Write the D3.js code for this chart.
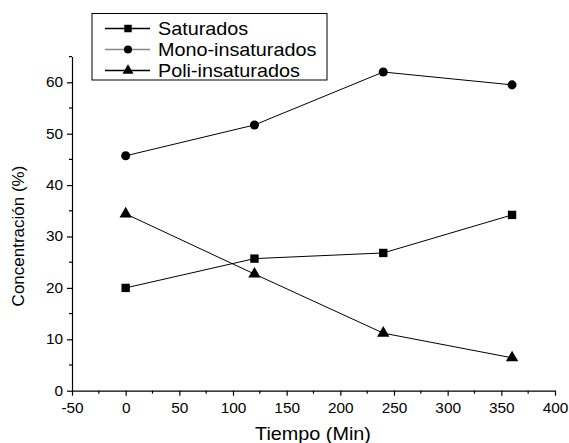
<!DOCTYPE html>
<html>
<head>
<meta charset="utf-8">
<script src="https://cdn.jsdelivr.net/npm/d3@7"></script>
<style>
html,body{margin:0;padding:0;background:#fff;}
svg{display:block;font-family:"Liberation Sans",Arial,sans-serif;}
</style>
</head>
<body>
<svg id="chart" width="569" height="443"></svg>
<script>
const tiempos = [0, 120, 240, 360];
const saturados = [20.0, 25.7, 26.8, 34.2];
const monoInsaturados = [45.7, 51.7, 62.0, 59.5];
const poliInsaturados = [34.4, 22.7, 11.2, 6.4];
const seriesNames = ["Saturados", "Mono-insaturados", "Poli-insaturados"];
const xTicks = [-50, 0, 50, 100, 150, 200, 250, 300, 350, 400];
const yTicks = [0, 10, 20, 30, 40, 50, 60];

const svg = d3.select("#chart");
const x = d3.scaleLinear().domain([-50, 400]).range([72, 555]);
const y = d3.scaleLinear().domain([0, 65]).range([390.7, 56.6]);
const SX = 1.1;

const series = [
  {name: seriesNames[0], values: saturados, shape: d3.symbolSquare, size: 70, legendColor: "#000"},
  {name: seriesNames[1], values: monoInsaturados, shape: d3.symbolCircle, size: 64, legendColor: "#888"},
  {name: seriesNames[2], values: poliInsaturados, shape: d3.symbolTriangle, size: 66, legendColor: "#000"}
];

// Axes
const xAxis = d3.axisBottom(x).tickValues(xTicks).tickSize(5).tickSizeOuter(0).tickFormat(d => String(d));
const gx = svg.append("g").attr("transform", "translate(0,390.7)").call(xAxis);
gx.select(".domain").attr("stroke", "#000").attr("stroke-width", 1.2);
gx.selectAll(".tick line").attr("stroke", "#000").attr("stroke-width", 1.2);
gx.selectAll(".tick text").attr("font-size", 14).attr("fill", "#000").attr("y", 12).attr("dy", "0.71em")
  .attr("transform", `scale(${SX},1)`)
  .attr("font-family", "Liberation Sans, Arial, sans-serif");
const xMinor = d3.range(-25, 400, 50);
svg.append("g").selectAll("line").data(xMinor).join("line")
  .attr("x1", d => x(d)).attr("x2", d => x(d)).attr("y1", 390.7).attr("y2", 393.7)
  .attr("stroke", "#000").attr("stroke-width", 1.2);

const yAxis = d3.axisLeft(y).tickValues(yTicks).tickSize(5).tickSizeOuter(0).tickFormat(d => String(d));
const gy = svg.append("g").attr("transform", "translate(72,0)").call(yAxis);
gy.select(".domain").attr("stroke", "#000").attr("stroke-width", 1.2);
gy.selectAll(".tick line").attr("stroke", "#000").attr("stroke-width", 1.2);
gy.selectAll(".tick text").attr("font-size", 14).attr("fill", "#000").attr("x", -9 / SX)
  .attr("transform", `scale(${SX},1)`)
  .attr("font-family", "Liberation Sans, Arial, sans-serif");
const yMinor = d3.range(5, 66, 10);
svg.append("g").selectAll("line").data(yMinor).join("line")
  .attr("x1", 72).attr("x2", 69).attr("y1", d => y(d)).attr("y2", d => y(d))
  .attr("stroke", "#000").attr("stroke-width", 1.2);

// Axis labels
svg.append("text").attr("transform", `translate(313,440) scale(${SX},1)`).attr("text-anchor", "middle")
  .attr("font-size", 18).text("Tiempo (Min)");
svg.append("text").attr("transform", "translate(24,236) rotate(-90)").attr("text-anchor", "middle")
  .attr("font-size", 17).text("Concentración (%)");

// Lines and markers
const line = d3.line().x((d, i) => x(tiempos[i])).y(d => y(d));
series.forEach(s => {
  svg.append("path").datum(s.values).attr("d", line)
    .attr("fill", "none").attr("stroke", "#000").attr("stroke-width", 1);
  svg.append("g").selectAll("path").data(s.values).join("path")
    .attr("transform", (d, i) => `translate(${x(tiempos[i])},${y(d)})`)
    .attr("d", d3.symbol().type(s.shape).size(s.size))
    .attr("fill", "#000");
});

// Legend
const lg = svg.append("g");
lg.append("rect").attr("x", 92).attr("y", 13.5).attr("width", 235).attr("height", 66.5)
  .attr("fill", "#fff").attr("stroke", "#000").attr("stroke-width", 1);
series.forEach((s, i) => {
  const cy = 28.5 + i * 21;
  lg.append("line").attr("x1", 105).attr("x2", 150).attr("y1", cy).attr("y2", cy)
    .attr("stroke", s.legendColor).attr("stroke-width", 1.3);
  lg.append("path").attr("transform", `translate(128,${cy})`)
    .attr("d", d3.symbol().type(s.shape).size(s.size * 0.8)).attr("fill", "#000");
  lg.append("text").attr("transform", `translate(158,${cy}) scale(${SX},1)`).attr("dy", "0.35em")
    .attr("font-size", 18).text(s.name);
});
</script>
</body>
</html>
